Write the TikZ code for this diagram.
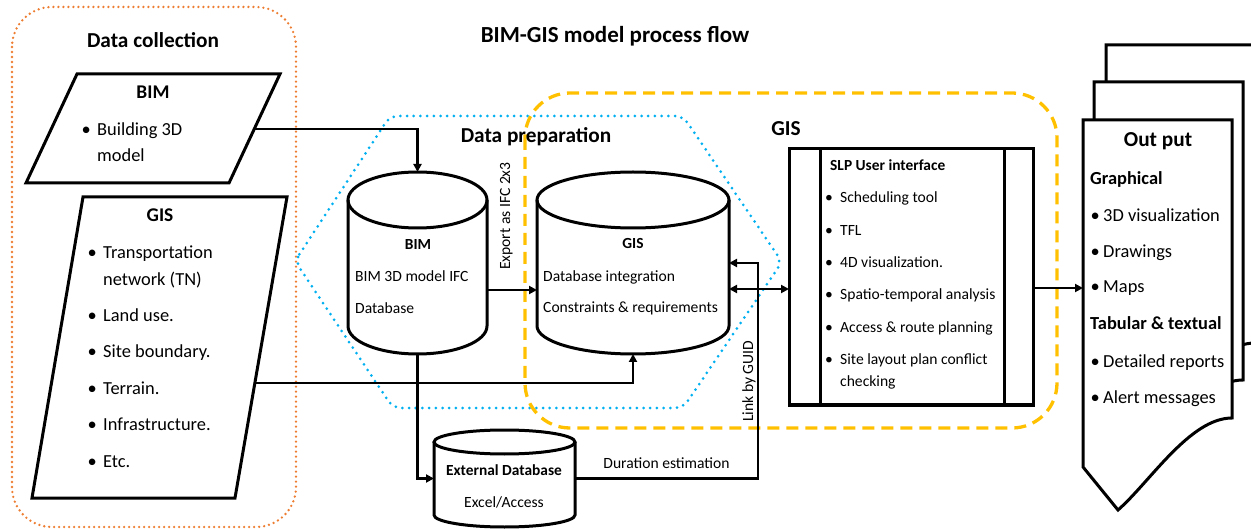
\documentclass[tikz,border=0pt]{standalone}
\usepackage{fontspec}
\setmainfont{Carlito}
\usetikzlibrary{arrows.meta}

\definecolor{collectCol}{RGB}{237,125,49}
\definecolor{prepCol}{RGB}{0,176,240}
\definecolor{gisCol}{RGB}{255,192,0}

\tikzset{
  shapeline/.style={line width=3pt, line join=miter},
  zone/.style={inner sep=0pt, outer sep=0pt},
  link/.style={line width=2.4pt, -{Triangle[length=8pt,width=8pt]}},
  twoway/.style={line width=2.4pt, {Triangle[length=8pt,width=8pt]}-{Triangle[length=8pt,width=8pt]}},
  maintitle/.style={font=\fontsize{23}{28}\selectfont\bfseries, anchor=base, inner sep=0pt},
  head/.style={font=\fontsize{21.3}{26}\selectfont\bfseries, anchor=base, inner sep=0pt},
  boxhead/.style={font=\fontsize{19.4}{23}\selectfont\bfseries, anchor=base, inner sep=0pt},
  item/.style={font=\fontsize{18.4}{22}\selectfont, anchor=base west, inner sep=0pt},
  itemhead/.style={item, font=\fontsize{18.4}{22}\selectfont\bfseries},
  note/.style={font=\fontsize{15.6}{19}\selectfont, anchor=base west, inner sep=0pt},
  notehead/.style={note, font=\fontsize{15.4}{19}\selectfont\bfseries},
}
\newcommand\bul[1]{\llap{\textbullet\hspace{#1}}}

\begin{document}
\begin{tikzpicture}[x=1pt, y=-1pt]
  \useasboundingbox (0,0) rectangle (1251,529);

  % group frames
  \draw[collectCol, line width=2.6pt, line cap=round, dash pattern=on 0pt off 5pt,
        rounded corners=40pt] (12,7) rectangle (296,527);
  \draw[prepCol, line width=3pt, line cap=round, dash pattern=on 0pt off 6.7pt,
        rounded corners=8pt] (295,261) -- (390,116) -- (683,116) -- (782,262)
        -- (683,408) -- (393,408) -- cycle;
  \draw[gisCol, line width=3.3pt, dash pattern=on 12pt off 7pt,
        rounded corners=45pt] (525,93) rectangle (1057,428);

  \node[maintitle] (flowtitle) at (615,43) {BIM-GIS model process flow};
  \node[head] (collecthead) at (153,48) {Data collection};
  \node[head] (prephead) at (536,143) {Data preparation};
  \node[head] (gishead) at (786,136) {GIS};

  % data collection
  \draw[shapeline] (77,74) -- (280,74) -- (229,183) -- (26,183) -- cycle;
  \coordinate (bimout) at (254,129);
  \node[boxhead] (bimhead) at (153,99) {BIM};
  \node[item] (bimitem1) at (97,136) {\bul{6.4pt}Building 3D};
  \node[item] (bimitem1b) at (97,162) {model};

  \draw[shapeline] (83,197) -- (287,197) -- (235,498) -- (32,498) -- cycle;
  \coordinate (gisout) at (255,383);
  \node[boxhead] (gissrchead) at (160,222) {GIS};
  \foreach \y/\txt [count=\i] in {259/Transportation, 322/Land use., 358/Site boundary.,
                                  395/Terrain., 430/Infrastructure., 467/Etc.}
    \node[item] (gisitem\i) at (103,\y) {\bul{6.4pt}\txt};
  \node[item] (gisitem1b) at (103,286) {network (TN)};

  % databases
  \node[zone, minimum width=139pt, minimum height=182pt] (bimdb) at (417.5,263) {};
  \draw[shapeline] (417.5,200) ellipse [x radius=69.5pt, y radius=28pt];
  \draw[shapeline] (348,200) -- (348,326)
        arc[start angle=180, end angle=360, x radius=69.5pt, y radius=28pt] -- (487,200);
  \node[notehead, anchor=base] (bimdbhead) at (418,250) {BIM};
  \node[note] (bimdbline1) at (355,282) {BIM 3D model IFC};
  \node[note] (bimdbline2) at (355,314) {Database};

  \node[zone, minimum width=192pt, minimum height=182pt] (gisdb) at (633,263) {};
  \draw[shapeline] (633,200) ellipse [x radius=96pt, y radius=28pt];
  \draw[shapeline] (537,200) -- (537,326)
        arc[start angle=180, end angle=360, x radius=96pt, y radius=28pt] -- (729,200);
  \node[notehead, anchor=base] (gisdbhead) at (633,249) {GIS};
  \node[note] (gisdbline1) at (543,282) {Database integration};
  \node[note] (gisdbline2) at (543,313) {Constraints \& requirements};

  \node[zone, minimum width=141pt, minimum height=97pt] (extdb) at (504.5,478.5) {};
  \draw[shapeline] (504.5,442) ellipse [x radius=70.5pt, y radius=12pt];
  \draw[shapeline] (434,442) -- (434,515)
        arc[start angle=180, end angle=360, x radius=70.5pt, y radius=12pt] -- (575,442);
  \node[notehead, anchor=base] (extdbhead) at (504,475) {External Database};
  \node[note, anchor=base] (extdbline) at (504,507) {Excel/Access};

  % user interface
  \node[zone, draw, shapeline, minimum width=244pt, minimum height=256pt] (slp) at (911,277) {};
  \draw[shapeline] ([xshift=31pt]slp.north west) -- ([xshift=31pt]slp.south west);
  \draw[shapeline] ([xshift=-29pt]slp.north east) -- ([xshift=-29pt]slp.south east);
  \node[notehead] (slphead) at (830,171) {SLP User interface};
  \foreach \y/\txt [count=\i] in {203/Scheduling tool, 236/TFL, 268/4D visualization.,
                                  300/Spatio-temporal analysis, 333/Access \& route planning,
                                  365/Site layout plan conflict}
    \node[note] (slpitem\i) at (840,\y) {\bul{7.2pt}\txt};
  \node[note] (slpitem6b) at (840,387) {checking};

  % output documents
  \foreach \dx/\dy in {23/-75, 11/-38, 0/0}
    \draw[shapeline, fill=white, shift={(\dx,\dy)}] (1083,120) -- (1232,120) -- (1232,418)
          .. controls (1190,418) and (1150,482) .. (1118,510) -- (1083,467) -- cycle;
  \node[zone, minimum width=149pt, minimum height=347pt] (outdoc) at (1157.5,293.5) {};
  \node[head] (outhead) at (1158,147) {Out put};
  \node[itemhead] (outgraph) at (1090,185) {Graphical};
  \foreach \y/\txt [count=\i] in {222/3D visualization, 258/Drawings, 293/Maps}
    \node[item] (graphitem\i) at (1103,\y) {\bul{3.5pt}\txt};
  \node[itemhead] (outtab) at (1090,330) {Tabular \& textual};
  \foreach \y/\txt [count=\i] in {367/Detailed reports, 403/Alert messages}
    \node[item] (tabitem\i) at (1103,\y) {\bul{3.5pt}\txt};

  % connectors
  \draw[link] (bimout) -| (bimdb.north);
  \draw[link] ([yshift=-27pt]bimdb.east) -- ([yshift=-27pt]gisdb.west);
  \node[note, rotate=90] (ifclabel) at (510,270) {Export as IFC 2x3};
  \draw[link] (gisout) -| (gisdb.south);
  \draw[link] (bimdb.south) |- (extdb.west);
  \draw[link] (extdb.east) -- node[note, anchor=base, yshift=10pt] (durlabel) {Duration estimation}
        ++(183pt,0) coordinate (guidturn) |- (gisdb.east);
  \node[note, rotate=90] (guidlabel) at (753,422) {Link by GUID};
  \coordinate (gislink) at ([yshift=-26pt]gisdb.east);
  \draw[twoway] (gislink) -- (gislink -| slp.west);
  \coordinate (slpout) at ([yshift=-11pt]slp.east);
  \draw[link] (slpout) -- (slpout -| outdoc.west);
\end{tikzpicture}
\end{document}
